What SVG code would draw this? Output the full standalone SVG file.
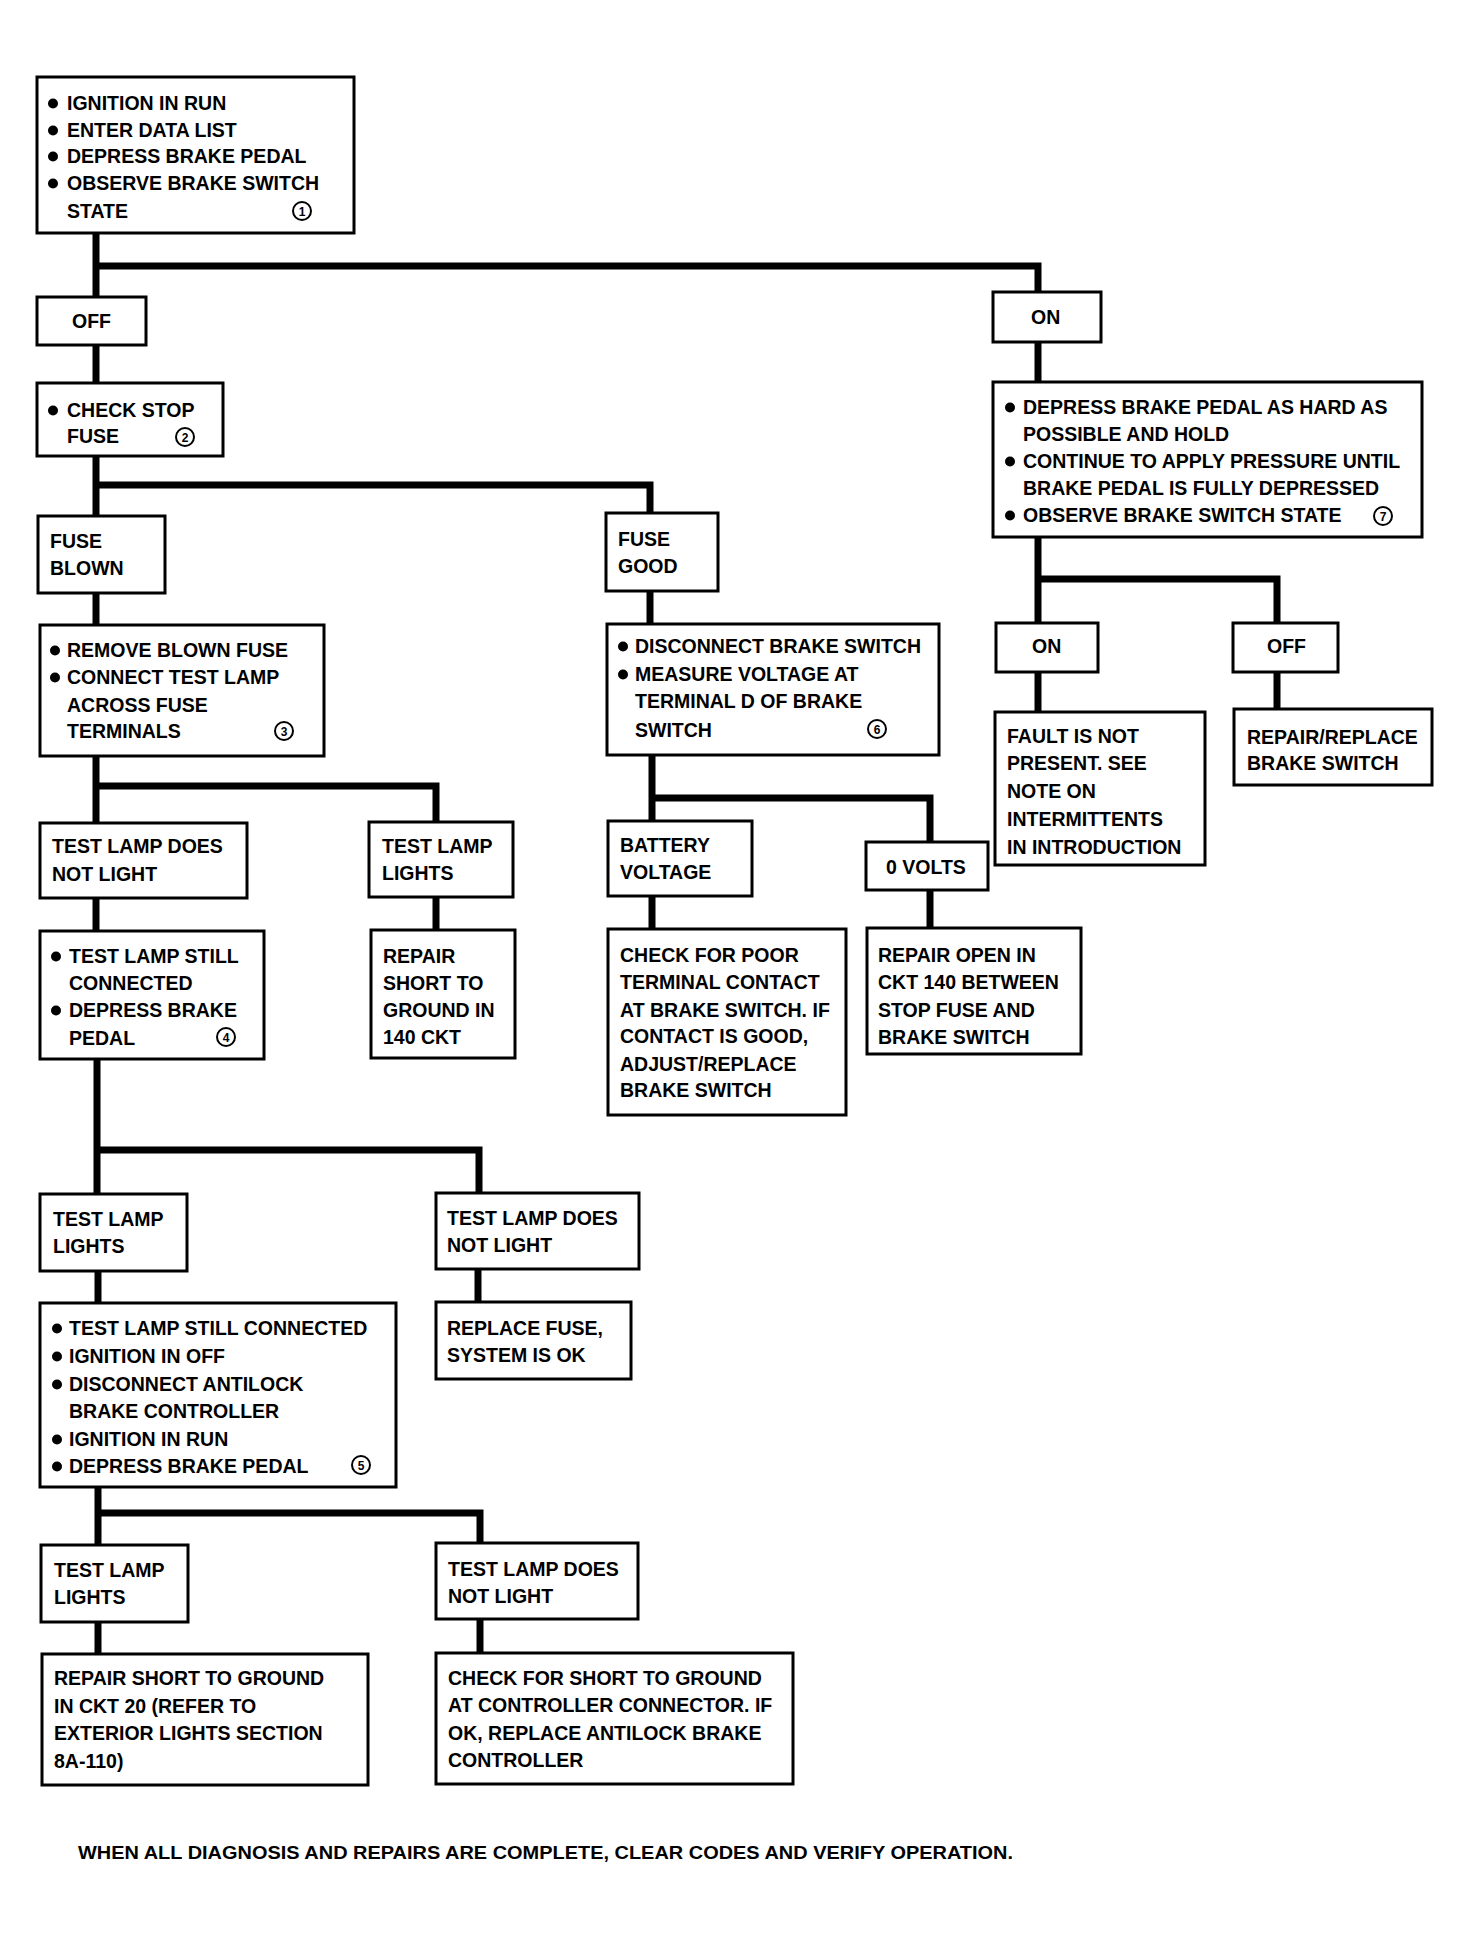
<svg xmlns="http://www.w3.org/2000/svg" width="1470" height="1937" viewBox="0 0 1470 1937">
<style>
.box{fill:#fff;stroke:#000;stroke-width:3}
.t{font-family:"Liberation Sans",Arial,sans-serif;font-weight:bold;font-size:19.5px;fill:#000}
.d{font-family:"Liberation Sans",Arial,sans-serif;font-weight:bold;font-size:12px;fill:#000;text-anchor:middle}
.c{fill:none;stroke:#000;stroke-width:2}
.b{fill:#000}
.con{fill:none;stroke:#000;stroke-width:7;stroke-linejoin:miter;stroke-linecap:butt}
</style>
<rect width="1470" height="1937" fill="#fff"/>
<g id="connectors">
<path class="con" d="M96 233V297M96 266H1038V292"/>
<path class="con" d="M96 345V383"/>
<path class="con" d="M96 456V516M96 485H650V513"/>
<path class="con" d="M96 593V625"/>
<path class="con" d="M96 756V823M96 786H436V822"/>
<path class="con" d="M436 897V930"/>
<path class="con" d="M96 898V931"/>
<path class="con" d="M97 1059V1194M97 1150H479V1193"/>
<path class="con" d="M478 1269V1302"/>
<path class="con" d="M98 1271V1303"/>
<path class="con" d="M98 1487V1545M98 1513H480V1543"/>
<path class="con" d="M98 1622V1654"/>
<path class="con" d="M480 1619V1653"/>
<path class="con" d="M650 591V624"/>
<path class="con" d="M652 755V821M652 798H930V842"/>
<path class="con" d="M652 896V929"/>
<path class="con" d="M930 890V928"/>
<path class="con" d="M1038 342V382"/>
<path class="con" d="M1038 537V623M1038 579H1277V623"/>
<path class="con" d="M1038 672V712"/>
<path class="con" d="M1277 672V709"/>
</g>
<g id="start">
<rect class="box" x="37" y="77" width="317" height="156"/>
<circle class="b" cx="53" cy="103.5" r="5"/><text class="t" x="67" y="110">IGNITION IN RUN</text>
<circle class="b" cx="53" cy="130.5" r="5"/><text class="t" x="67" y="137">ENTER DATA LIST</text>
<circle class="b" cx="53" cy="156.5" r="5"/><text class="t" x="67" y="163">DEPRESS BRAKE PEDAL</text>
<circle class="b" cx="53" cy="183.5" r="5"/><text class="t" x="67" y="190">OBSERVE BRAKE SWITCH</text>
<text class="t" x="67" y="218">STATE</text>
<circle class="c" cx="302" cy="211" r="9"/><text class="d" x="302" y="215.5">1</text>
</g>
<g id="off1">
<rect class="box" x="37" y="297" width="109" height="48"/>
<text class="t" x="72" y="328">OFF</text>
</g>
<g id="checkfuse">
<rect class="box" x="37" y="383" width="186" height="73"/>
<circle class="b" cx="53" cy="410.5" r="5"/><text class="t" x="67" y="417">CHECK STOP</text>
<text class="t" x="67" y="443">FUSE</text>
<circle class="c" cx="185" cy="437" r="9"/><text class="d" x="185" y="441.5">2</text>
</g>
<g id="fuseblown">
<rect class="box" x="38" y="516" width="127" height="77"/>
<text class="t" x="50" y="548">FUSE</text>
<text class="t" x="50" y="575">BLOWN</text>
</g>
<g id="removefuse">
<rect class="box" x="40" y="625" width="284" height="131"/>
<circle class="b" cx="55" cy="650.5" r="5"/><text class="t" x="67" y="657">REMOVE BLOWN FUSE</text>
<circle class="b" cx="55" cy="677.5" r="5"/><text class="t" x="67" y="684">CONNECT TEST LAMP</text>
<text class="t" x="67" y="712">ACROSS FUSE</text>
<text class="t" x="67" y="738">TERMINALS</text>
<circle class="c" cx="284" cy="731" r="9"/><text class="d" x="284" y="735.5">3</text>
</g>
<g id="tldnl1">
<rect class="box" x="40" y="823" width="207" height="75"/>
<text class="t" x="52" y="853">TEST LAMP DOES</text>
<text class="t" x="52" y="881">NOT LIGHT</text>
</g>
<g id="tll1">
<rect class="box" x="369" y="822" width="144" height="75"/>
<text class="t" x="382" y="853">TEST LAMP</text>
<text class="t" x="382" y="880">LIGHTS</text>
</g>
<g id="repair140">
<rect class="box" x="371" y="930" width="144" height="128"/>
<text class="t" x="383" y="963">REPAIR</text>
<text class="t" x="383" y="990">SHORT TO</text>
<text class="t" x="383" y="1017">GROUND IN</text>
<text class="t" x="383" y="1044">140 CKT</text>
</g>
<g id="tlsc1">
<rect class="box" x="40" y="931" width="224" height="128"/>
<circle class="b" cx="56" cy="956.5" r="5"/><text class="t" x="69" y="963">TEST LAMP STILL</text>
<text class="t" x="69" y="990">CONNECTED</text>
<circle class="b" cx="56" cy="1010.5" r="5"/><text class="t" x="69" y="1017">DEPRESS BRAKE</text>
<text class="t" x="69" y="1045">PEDAL</text>
<circle class="c" cx="226" cy="1037" r="9"/><text class="d" x="226" y="1041.5">4</text>
</g>
<g id="tll2">
<rect class="box" x="40" y="1194" width="147" height="77"/>
<text class="t" x="53" y="1226">TEST LAMP</text>
<text class="t" x="53" y="1253">LIGHTS</text>
</g>
<g id="tldnl2">
<rect class="box" x="436" y="1193" width="203" height="76"/>
<text class="t" x="447" y="1225">TEST LAMP DOES</text>
<text class="t" x="447" y="1252">NOT LIGHT</text>
</g>
<g id="replacefuse">
<rect class="box" x="436" y="1302" width="195" height="77"/>
<text class="t" x="447" y="1335">REPLACE FUSE,</text>
<text class="t" x="447" y="1362">SYSTEM IS OK</text>
</g>
<g id="tlsc2">
<rect class="box" x="40" y="1303" width="356" height="184"/>
<circle class="b" cx="57" cy="1328.5" r="5"/><text class="t" x="69" y="1335">TEST LAMP STILL CONNECTED</text>
<circle class="b" cx="57" cy="1356.5" r="5"/><text class="t" x="69" y="1363">IGNITION IN OFF</text>
<circle class="b" cx="57" cy="1384.5" r="5"/><text class="t" x="69" y="1391">DISCONNECT ANTILOCK</text>
<text class="t" x="69" y="1418">BRAKE CONTROLLER</text>
<circle class="b" cx="57" cy="1439.5" r="5"/><text class="t" x="69" y="1446">IGNITION IN RUN</text>
<circle class="b" cx="57" cy="1466.5" r="5"/><text class="t" x="69" y="1473">DEPRESS BRAKE PEDAL</text>
<circle class="c" cx="361" cy="1465" r="9"/><text class="d" x="361" y="1469.5">5</text>
</g>
<g id="tll3">
<rect class="box" x="41" y="1545" width="147" height="77"/>
<text class="t" x="54" y="1577">TEST LAMP</text>
<text class="t" x="54" y="1604">LIGHTS</text>
</g>
<g id="tldnl3">
<rect class="box" x="436" y="1543" width="202" height="76"/>
<text class="t" x="448" y="1576">TEST LAMP DOES</text>
<text class="t" x="448" y="1603">NOT LIGHT</text>
</g>
<g id="repairckt20">
<rect class="box" x="42" y="1654" width="326" height="131"/>
<text class="t" x="54" y="1685">REPAIR SHORT TO GROUND</text>
<text class="t" x="54" y="1713">IN CKT 20 (REFER TO</text>
<text class="t" x="54" y="1740">EXTERIOR LIGHTS SECTION</text>
<text class="t" x="54" y="1768">8A-110)</text>
</g>
<g id="checkshort">
<rect class="box" x="436" y="1653" width="357" height="131"/>
<text class="t" x="448" y="1685">CHECK FOR SHORT TO GROUND</text>
<text class="t" x="448" y="1712">AT CONTROLLER CONNECTOR. IF</text>
<text class="t" x="448" y="1740">OK, REPLACE ANTILOCK BRAKE</text>
<text class="t" x="448" y="1767">CONTROLLER</text>
</g>
<g id="fusegood">
<rect class="box" x="606" y="513" width="112" height="78"/>
<text class="t" x="618" y="546">FUSE</text>
<text class="t" x="618" y="573">GOOD</text>
</g>
<g id="disconnect">
<rect class="box" x="607" y="624" width="332" height="131"/>
<circle class="b" cx="623" cy="646.5" r="5"/><text class="t" x="635" y="653">DISCONNECT BRAKE SWITCH</text>
<circle class="b" cx="623" cy="674.5" r="5"/><text class="t" x="635" y="681">MEASURE VOLTAGE AT</text>
<text class="t" x="635" y="708">TERMINAL D OF BRAKE</text>
<text class="t" x="635" y="737">SWITCH</text>
<circle class="c" cx="877" cy="729" r="9"/><text class="d" x="877" y="733.5">6</text>
</g>
<g id="battery">
<rect class="box" x="608" y="821" width="144" height="75"/>
<text class="t" x="620" y="852">BATTERY</text>
<text class="t" x="620" y="879">VOLTAGE</text>
</g>
<g id="zerovolts">
<rect class="box" x="866" y="842" width="122" height="48"/>
<text class="t" x="886" y="874">0 VOLTS</text>
</g>
<g id="checkpoor">
<rect class="box" x="608" y="929" width="238" height="186"/>
<text class="t" x="620" y="962">CHECK FOR POOR</text>
<text class="t" x="620" y="989">TERMINAL CONTACT</text>
<text class="t" x="620" y="1017">AT BRAKE SWITCH. IF</text>
<text class="t" x="620" y="1043">CONTACT IS GOOD,</text>
<text class="t" x="620" y="1071">ADJUST/REPLACE</text>
<text class="t" x="620" y="1097">BRAKE SWITCH</text>
</g>
<g id="repairopen">
<rect class="box" x="867" y="928" width="214" height="126"/>
<text class="t" x="878" y="962">REPAIR OPEN IN</text>
<text class="t" x="878" y="989">CKT 140 BETWEEN</text>
<text class="t" x="878" y="1017">STOP FUSE AND</text>
<text class="t" x="878" y="1044">BRAKE SWITCH</text>
</g>
<g id="on1">
<rect class="box" x="993" y="292" width="108" height="50"/>
<text class="t" x="1031" y="324">ON</text>
</g>
<g id="depresshard">
<rect class="box" x="993" y="382" width="429" height="155"/>
<circle class="b" cx="1010" cy="407.5" r="5"/><text class="t" x="1023" y="414">DEPRESS BRAKE PEDAL AS HARD AS</text>
<text class="t" x="1023" y="441">POSSIBLE AND HOLD</text>
<circle class="b" cx="1010" cy="461.5" r="5"/><text class="t" x="1023" y="468">CONTINUE TO APPLY PRESSURE UNTIL</text>
<text class="t" x="1023" y="495">BRAKE PEDAL IS FULLY DEPRESSED</text>
<circle class="b" cx="1010" cy="515.5" r="5"/><text class="t" x="1023" y="522">OBSERVE BRAKE SWITCH STATE</text>
<circle class="c" cx="1383" cy="516" r="9"/><text class="d" x="1383" y="520.5">7</text>
</g>
<g id="on2">
<rect class="box" x="996" y="623" width="102" height="49"/>
<text class="t" x="1032" y="653">ON</text>
</g>
<g id="off2">
<rect class="box" x="1233" y="623" width="105" height="49"/>
<text class="t" x="1267" y="653">OFF</text>
</g>
<g id="fault">
<rect class="box" x="995" y="712" width="210" height="153"/>
<text class="t" x="1007" y="743">FAULT IS NOT</text>
<text class="t" x="1007" y="770">PRESENT. SEE</text>
<text class="t" x="1007" y="798">NOTE ON</text>
<text class="t" x="1007" y="826">INTERMITTENTS</text>
<text class="t" x="1007" y="854">IN INTRODUCTION</text>
</g>
<g id="repairreplace">
<rect class="box" x="1234" y="709" width="198" height="76"/>
<text class="t" x="1247" y="744">REPAIR/REPLACE</text>
<text class="t" x="1247" y="770">BRAKE SWITCH</text>
</g>
<g id="footer">
<text class="t" x="78" y="1859" style="font-size:18px" textLength="935" lengthAdjust="spacingAndGlyphs">WHEN ALL DIAGNOSIS AND REPAIRS ARE COMPLETE, CLEAR CODES AND VERIFY OPERATION.</text>
</g>
</svg>
